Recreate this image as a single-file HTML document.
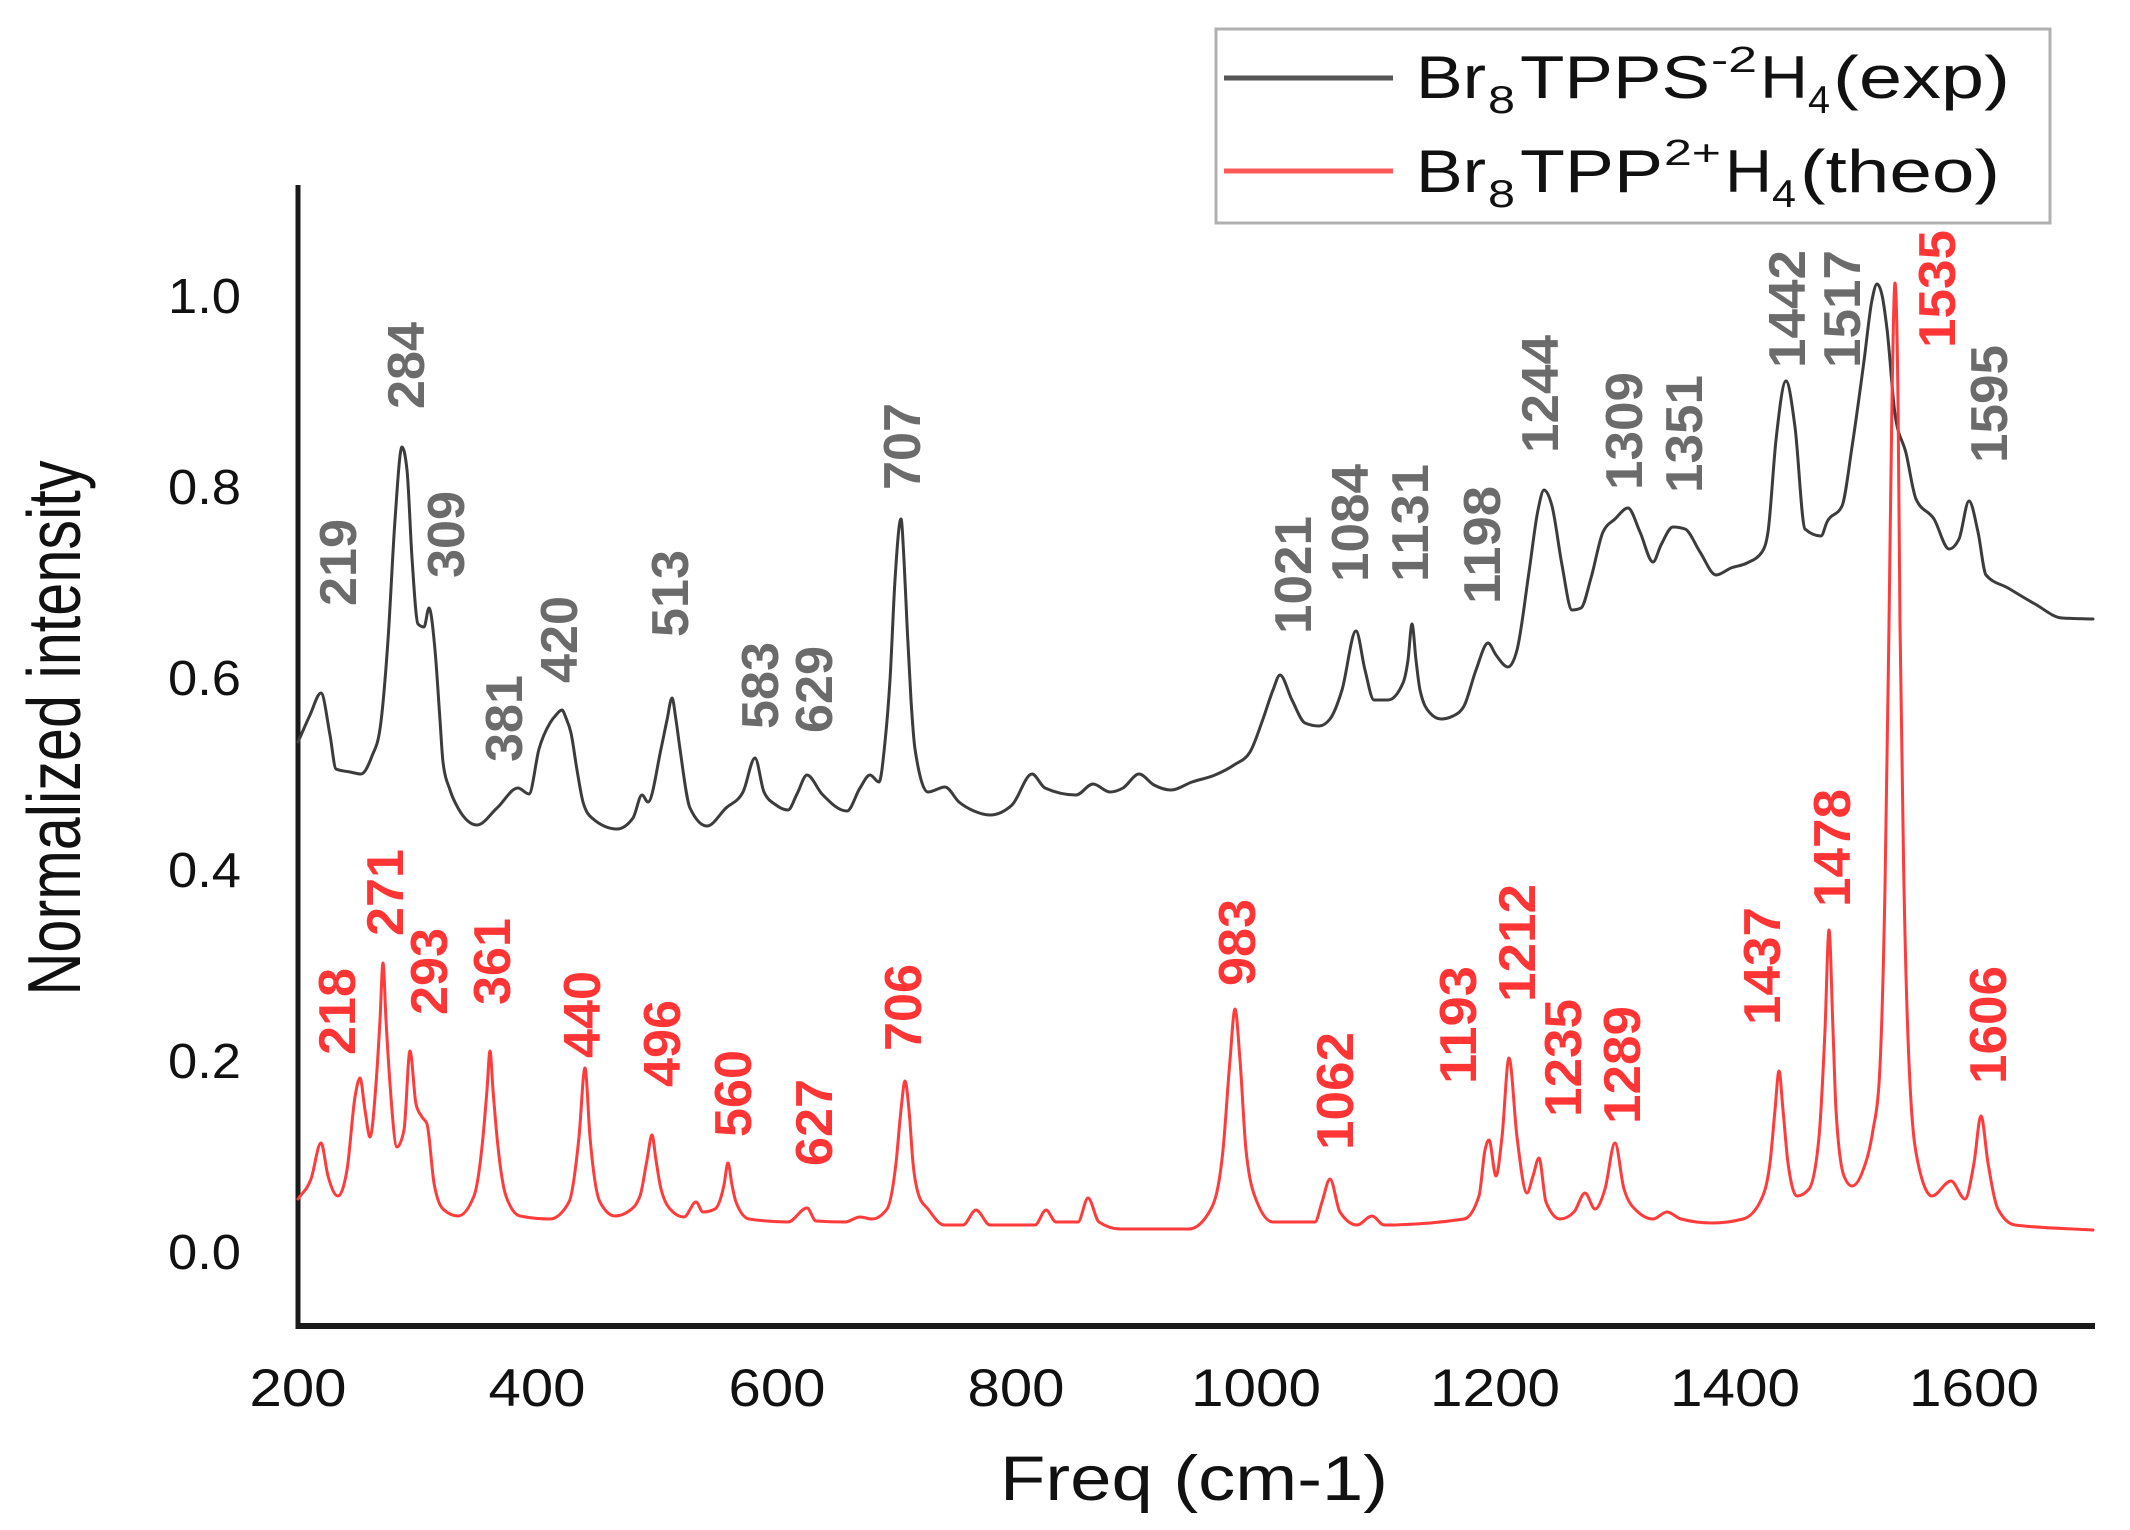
<!DOCTYPE html>
<html><head><meta charset="utf-8"><style>
html,body{margin:0;padding:0;background:#fff;}
svg{display:block;}
text{font-family:"Liberation Sans",Arial,sans-serif;}
</style></head><body>
<svg id="chart" width="2130" height="1530" viewBox="0 0 2130 1530" xmlns="http://www.w3.org/2000/svg">
<rect width="2130" height="1530" fill="#fff"/>

<!-- legend -->
<rect x="1216" y="29" width="834" height="194" fill="#fff" stroke="#b0b0b0" stroke-width="3"/>
<line x1="1224" y1="78" x2="1393" y2="78" stroke="#555" stroke-width="5"/>
<line x1="1224" y1="171" x2="1393" y2="171" stroke="#ff5a5a" stroke-width="5"/>
<g fill="#111">
<text x="1416" y="98" font-size="60" textLength="70" lengthAdjust="spacingAndGlyphs">Br</text>
<text x="1488" y="113" font-size="39" textLength="27" lengthAdjust="spacingAndGlyphs">8</text>
<text x="1520" y="98" font-size="60" textLength="190" lengthAdjust="spacingAndGlyphs">TPPS</text>
<text x="1711" y="72" font-size="36" textLength="46" lengthAdjust="spacingAndGlyphs">-2</text>
<text x="1760" y="98" font-size="60" textLength="48" lengthAdjust="spacingAndGlyphs">H</text>
<text x="1808" y="113" font-size="39" textLength="22" lengthAdjust="spacingAndGlyphs">4</text>
<text x="1833" y="98" font-size="60" textLength="177" lengthAdjust="spacingAndGlyphs">(exp)</text>

<text x="1416" y="192" font-size="60" textLength="70" lengthAdjust="spacingAndGlyphs">Br</text>
<text x="1488" y="207" font-size="39" textLength="27" lengthAdjust="spacingAndGlyphs">8</text>
<text x="1520" y="192" font-size="60" textLength="143" lengthAdjust="spacingAndGlyphs">TPP</text>
<text x="1664" y="165" font-size="36" textLength="57" lengthAdjust="spacingAndGlyphs">2+</text>
<text x="1725" y="192" font-size="60" textLength="47" lengthAdjust="spacingAndGlyphs">H</text>
<text x="1772" y="207" font-size="39" textLength="24" lengthAdjust="spacingAndGlyphs">4</text>
<text x="1800" y="192" font-size="60" textLength="200" lengthAdjust="spacingAndGlyphs">(theo)</text>
</g>

<!-- axes -->
<line x1="298" y1="185" x2="298" y2="1329" stroke="#1a1a1a" stroke-width="5"/>
<line x1="296" y1="1326" x2="2095" y2="1326" stroke="#1a1a1a" stroke-width="6"/>

<!-- y tick labels -->
<g fill="#111" font-size="49" text-anchor="end">
<text x="241" y="313" textLength="73" lengthAdjust="spacingAndGlyphs">1.0</text>
<text x="241" y="504" textLength="73" lengthAdjust="spacingAndGlyphs">0.8</text>
<text x="241" y="695" textLength="73" lengthAdjust="spacingAndGlyphs">0.6</text>
<text x="241" y="887" textLength="73" lengthAdjust="spacingAndGlyphs">0.4</text>
<text x="241" y="1078" textLength="73" lengthAdjust="spacingAndGlyphs">0.2</text>
<text x="241" y="1269" textLength="73" lengthAdjust="spacingAndGlyphs">0.0</text>
</g>

<!-- x tick labels -->
<g fill="#111" font-size="53" text-anchor="middle">
<text x="298" y="1406" textLength="97" lengthAdjust="spacingAndGlyphs">200</text>
<text x="537" y="1406" textLength="97" lengthAdjust="spacingAndGlyphs">400</text>
<text x="777" y="1406" textLength="97" lengthAdjust="spacingAndGlyphs">600</text>
<text x="1016" y="1406" textLength="97" lengthAdjust="spacingAndGlyphs">800</text>
<text x="1256" y="1406" textLength="130" lengthAdjust="spacingAndGlyphs">1000</text>
<text x="1495" y="1406" textLength="130" lengthAdjust="spacingAndGlyphs">1200</text>
<text x="1735" y="1406" textLength="130" lengthAdjust="spacingAndGlyphs">1400</text>
<text x="1974" y="1406" textLength="130" lengthAdjust="spacingAndGlyphs">1600</text>
</g>

<!-- axis titles -->
<text x="1000" y="1500" font-size="63" fill="#111" textLength="388" lengthAdjust="spacingAndGlyphs">Freq (cm-1)</text>
<text transform="translate(80,728) scale(1.25,1) rotate(-90)" x="0" y="0" font-size="60" fill="#111" text-anchor="middle" textLength="535" lengthAdjust="spacingAndGlyphs">Normalized intensity</text>

<!-- experimental curve -->
<polyline class="smooth" fill="none" stroke="#3c3c3c" stroke-width="3" stroke-linejoin="round" stroke-linecap="round" points="
298,742 310,715 321,693 330,735 336,769 350,772 361,774 372,756 380,729 388,640 395,520 402,447 407,470 412,558 418,624 424,627 429,608 435,650 440,720 443,762 450,790 458,808 477,825 497,808 518,788 529,794 539,749 550,723 556,715 562,710 566,718 571,733 577,770 583,802 592,818 617,829 633,818 642,795 648,802 661,749 667,720 672,698 676,720 680,749 690,808 707,826 726,808 743,792 755,758 764,792 776,805 788,810 797,794 807,775 822,794 847,811 860,788 870,775 879,782 885,742 890,680 895,580 901,519 904,560 907,624 911,700 915,749 928,792 945,787 959,802 974,811 990,815 1012,805 1032,774 1045,788 1076,795 1093,784 1110,792 1123,788 1139,774 1154,785 1171,790 1192,782 1215,775 1234,765 1250,752 1263,719 1273,690 1280,675 1292,700 1305,723 1319,726 1330,719 1342,690 1356,631 1365,670 1374,700 1388,700 1403,683 1408,660 1412,624 1416,660 1420,690 1430,713 1441,719 1453,716 1464,706 1476,670 1488,643 1496,655 1508,667 1517,650 1529,572 1538,510 1544,490 1552,506 1562,565 1572,610 1581,608 1591,578 1603,532 1615,519 1628,508 1640,532 1653,562 1661,545 1673,527 1685,529 1700,552 1716,575 1731,568 1747,563 1762,552 1768,532 1776,440 1786,381 1795,427 1805,529 1821,536 1827,522 1842,506 1852,447 1864,361 1872,300 1877,284 1882,295 1887,329 1895,414 1906,453 1916,499 1934,519 1949,549 1959,539 1969,501 1978,532 1986,575 2008,588 2035,604 2062,618 2093,619"/>

<!-- theoretical curve -->
<polyline class="smooth" fill="none" stroke="#ff3b3b" stroke-width="3" stroke-linejoin="round" stroke-linecap="round" points="
298,1199 311,1179 321,1143 328,1176 338,1196 347,1170 355,1097 360,1078 365,1110 370,1137 376,1084 380,1020 383,963 386,1020 390,1084 397,1147 404,1130 410,1051 416,1104 422,1117 427,1124 434,1183 443,1209 458,1216 474,1196 483,1137 487,1090 490,1051 493,1090 497,1137 506,1196 520,1216 550,1219 569,1202 579,1137 585,1068 590,1137 600,1202 615,1216 629,1211 640,1196 647,1160 652,1135 656,1160 661,1189 673,1212 684,1217 696,1202 703,1212 715,1209 724,1185 728,1163 732,1185 736,1202 749,1219 788,1222 807,1208 816,1221 845,1222 860,1217 872,1219 887,1209 896,1163 901,1110 905,1081 909,1110 913,1163 919,1196 928,1209 944,1225 963,1225 976,1210 990,1225 1035,1225 1046,1210 1056,1222 1078,1222 1088,1198 1099,1222 1120,1229 1189,1229 1211,1209 1223,1150 1230,1060 1235,1009 1240,1060 1246,1150 1257,1202 1273,1222 1315,1222 1322,1202 1330,1179 1340,1212 1357,1225 1372,1216 1384,1225 1464,1219 1479,1196 1485,1150 1489,1140 1496,1176 1502,1137 1509,1058 1517,1137 1527,1193 1533,1176 1539,1158 1546,1202 1560,1219 1574,1212 1585,1193 1595,1209 1605,1189 1615,1143 1624,1189 1638,1212 1653,1219 1667,1212 1681,1219 1712,1223 1743,1219 1760,1202 1770,1163 1775,1110 1779,1071 1783,1110 1788,1163 1797,1196 1809,1189 1819,1137 1825,1030 1829,930 1833,1030 1836,1110 1844,1176 1852,1186 1862,1173 1873,1130 1879,1084 1885,887 1889,624 1892,400 1895,283 1898,400 1900,624 1904,887 1910,1084 1918,1163 1932,1196 1951,1181 1965,1199 1974,1163 1981,1116 1988,1163 1998,1209 2015,1225 2093,1230"/>

<!-- gray annotations -->
<g fill="#6b6b6b" font-size="52" font-weight="bold">
<text transform="translate(356,606) rotate(-90)" textLength="87" lengthAdjust="spacingAndGlyphs">219</text>
<text transform="translate(424,409) rotate(-90)" textLength="87" lengthAdjust="spacingAndGlyphs">284</text>
<text transform="translate(464,578) rotate(-90)" textLength="87" lengthAdjust="spacingAndGlyphs">309</text>
<text transform="translate(522,762) rotate(-90)" textLength="87" lengthAdjust="spacingAndGlyphs">381</text>
<text transform="translate(577,683) rotate(-90)" textLength="87" lengthAdjust="spacingAndGlyphs">420</text>
<text transform="translate(688,637) rotate(-90)" textLength="87" lengthAdjust="spacingAndGlyphs">513</text>
<text transform="translate(778,729) rotate(-90)" textLength="87" lengthAdjust="spacingAndGlyphs">583</text>
<text transform="translate(832,733) rotate(-90)" textLength="87" lengthAdjust="spacingAndGlyphs">629</text>
<text transform="translate(920,490) rotate(-90)" textLength="87" lengthAdjust="spacingAndGlyphs">707</text>
<text transform="translate(1311,634) rotate(-90)" textLength="118" lengthAdjust="spacingAndGlyphs">1021</text>
<text transform="translate(1368,582) rotate(-90)" textLength="118" lengthAdjust="spacingAndGlyphs">1084</text>
<text transform="translate(1428,582) rotate(-90)" textLength="118" lengthAdjust="spacingAndGlyphs">1131</text>
<text transform="translate(1500,604) rotate(-90)" textLength="118" lengthAdjust="spacingAndGlyphs">1198</text>
<text transform="translate(1558,453) rotate(-90)" textLength="118" lengthAdjust="spacingAndGlyphs">1244</text>
<text transform="translate(1642,490) rotate(-90)" textLength="118" lengthAdjust="spacingAndGlyphs">1309</text>
<text transform="translate(1702,493) rotate(-90)" textLength="118" lengthAdjust="spacingAndGlyphs">1351</text>
<text transform="translate(1805,368) rotate(-90)" textLength="118" lengthAdjust="spacingAndGlyphs">1442</text>
<text transform="translate(1860,368) rotate(-90)" textLength="118" lengthAdjust="spacingAndGlyphs">1517</text>
<text transform="translate(2007,463) rotate(-90)" textLength="118" lengthAdjust="spacingAndGlyphs">1595</text>
</g>

<!-- red annotations -->
<g fill="#ff3535" font-size="52" font-weight="bold">
<text transform="translate(355,1055) rotate(-90)" textLength="87" lengthAdjust="spacingAndGlyphs">218</text>
<text transform="translate(403,936) rotate(-90)" textLength="87" lengthAdjust="spacingAndGlyphs">271</text>
<text transform="translate(447,1015) rotate(-90)" textLength="87" lengthAdjust="spacingAndGlyphs">293</text>
<text transform="translate(510,1005) rotate(-90)" textLength="87" lengthAdjust="spacingAndGlyphs">361</text>
<text transform="translate(600,1058) rotate(-90)" textLength="87" lengthAdjust="spacingAndGlyphs">440</text>
<text transform="translate(680,1087) rotate(-90)" textLength="87" lengthAdjust="spacingAndGlyphs">496</text>
<text transform="translate(751,1137) rotate(-90)" textLength="87" lengthAdjust="spacingAndGlyphs">560</text>
<text transform="translate(832,1166) rotate(-90)" textLength="87" lengthAdjust="spacingAndGlyphs">627</text>
<text transform="translate(921,1051) rotate(-90)" textLength="87" lengthAdjust="spacingAndGlyphs">706</text>
<text transform="translate(1255,986) rotate(-90)" textLength="87" lengthAdjust="spacingAndGlyphs">983</text>
<text transform="translate(1353,1150) rotate(-90)" textLength="118" lengthAdjust="spacingAndGlyphs">1062</text>
<text transform="translate(1476,1084) rotate(-90)" textLength="118" lengthAdjust="spacingAndGlyphs">1193</text>
<text transform="translate(1535,1002) rotate(-90)" textLength="118" lengthAdjust="spacingAndGlyphs">1212</text>
<text transform="translate(1581,1117) rotate(-90)" textLength="118" lengthAdjust="spacingAndGlyphs">1235</text>
<text transform="translate(1640,1124) rotate(-90)" textLength="118" lengthAdjust="spacingAndGlyphs">1289</text>
<text transform="translate(1780,1025) rotate(-90)" textLength="118" lengthAdjust="spacingAndGlyphs">1437</text>
<text transform="translate(1850,907) rotate(-90)" textLength="118" lengthAdjust="spacingAndGlyphs">1478</text>
<text transform="translate(1955,348) rotate(-90)" textLength="118" lengthAdjust="spacingAndGlyphs">1535</text>
<text transform="translate(2006,1084) rotate(-90)" textLength="118" lengthAdjust="spacingAndGlyphs">1606</text>
</g>
</svg>
<script>
(function(){
  var NS="http://www.w3.org/2000/svg";
  var lines=document.querySelectorAll("polyline.smooth");
  for(var q=0;q<lines.length;q++){
    var pl=lines[q];
    var raw=pl.getAttribute("points").trim().split(/\s+/);
    var P=[];
    for(var i=0;i<raw.length;i++){var a=raw[i].split(",");P.push([+a[0],+a[1]]);}
    var n=P.length; if(n<3) continue;
    var h=[],s=[];
    for(i=0;i<n-1;i++){h[i]=P[i+1][0]-P[i][0]; s[i]=(P[i+1][1]-P[i][1])/h[i];}
    var m=[];
    m[0]=s[0]; m[n-1]=s[n-2];
    for(i=1;i<n-1;i++){
      var s0=s[i-1],s1=s[i],h0=h[i-1],h1=h[i];
      var p=(s0*h1+s1*h0)/(h0+h1);
      var sg=(s0>0?1:s0<0?-1:0)+(s1>0?1:s1<0?-1:0);
      m[i]=sg*Math.min(Math.abs(s0),Math.abs(s1),0.5*Math.abs(p));
    }
    var d="M"+P[0][0]+","+P[0][1];
    for(i=0;i<n-1;i++){
      var dx=h[i]/3;
      d+="C"+(P[i][0]+dx).toFixed(2)+","+(P[i][1]+m[i]*dx).toFixed(2)+" "+
         (P[i+1][0]-dx).toFixed(2)+","+(P[i+1][1]-m[i+1]*dx).toFixed(2)+" "+
         P[i+1][0]+","+P[i+1][1];
    }
    var path=document.createElementNS(NS,"path");
    path.setAttribute("d",d);
    path.setAttribute("fill","none");
    path.setAttribute("stroke",pl.getAttribute("stroke"));
    path.setAttribute("stroke-width",pl.getAttribute("stroke-width"));
    path.setAttribute("stroke-linejoin","round");
    path.setAttribute("stroke-linecap","round");
    pl.parentNode.replaceChild(path,pl);
  }
})();
</script>
</body></html>
